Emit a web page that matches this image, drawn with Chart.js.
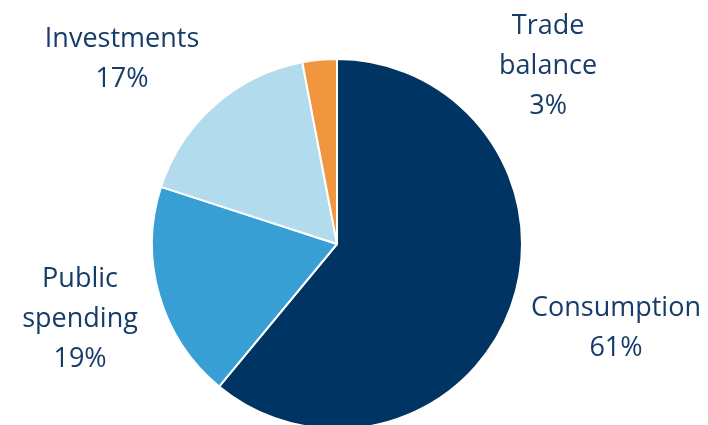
<!DOCTYPE html>
<html>
<head>
<meta charset="utf-8">
<script src="https://cdn.jsdelivr.net/npm/chart.js@4.4.1/dist/chart.umd.min.js"></script>
<style>
  html, body { margin: 0; padding: 0; background: #fff; overflow: hidden; }
  #wrap { width: 708px; height: 440px; }
</style>
</head>
<body>
<div id="wrap"><canvas id="gdpChart" width="708" height="440"></canvas></div>
<script>
// GDP composition, share of total (%)
const categories = [['Consumption'], ['Public', 'spending'], ['Investments'], ['Trade', 'balance']];
const shares = [61, 19, 17, 3];
const sliceColors = ['#003462', '#379fd3', '#b2dbed', '#f0963f'];

// where each label block sits, as a multiple of the pie radius from its centre
const labelPlace = [[1.508, 0.454], [-1.389, 0.405], [-1.162, -1.0], [1.141, -0.962]];
const LABEL_FONT = '400 27px "Open Sans"';
const LINE_H = 40;

const outsideLabels = {
    id: 'outsideLabels',
    afterDatasetsDraw(chart) {
        const ctx = chart.ctx;
        const arcs = chart.getDatasetMeta(0).data;
        ctx.save();
        ctx.font = LABEL_FONT;
        ctx.fillStyle = '#173c6a';
        ctx.textAlign = 'center';
        ctx.textBaseline = 'middle';
        arcs.forEach((arc, i) => {
            const r = arc.outerRadius;
            const lines = categories[i].concat([shares[i] + '%']);
            const cx = arc.x + labelPlace[i][0] * r;
            const cy = arc.y + labelPlace[i][1] * r;
            const top = cy - (lines.length - 1) * LINE_H / 2;
            lines.forEach((txt, k) => ctx.fillText(txt, cx, top + k * LINE_H));
        });
        ctx.restore();
    }
};

new Chart(document.getElementById('gdpChart'), {
    type: 'pie',
    data: {
        labels: categories.map(l => l.join(' ')),
        datasets: [{
            data: shares,
            backgroundColor: sliceColors,
            borderColor: '#ffffff',
            borderWidth: 2,
            hoverBorderWidth: 2
        }]
    },
    options: {
        responsive: false,
        animation: false,
        layout: { padding: { left: 151, right: 185, top: 58, bottom: 10 } },
        plugins: {
            legend: { display: false },
            tooltip: { enabled: false }
        }
    },
    plugins: [outsideLabels]
});
</script>
</body>
</html>
